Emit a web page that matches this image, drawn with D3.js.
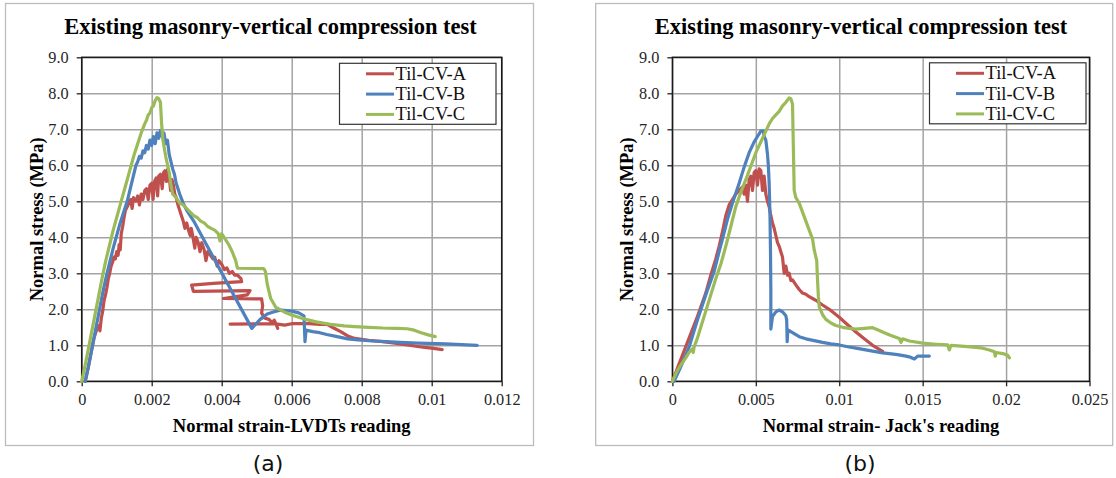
<!DOCTYPE html>
<html>
<head>
<meta charset="utf-8">
<script src="https://cdn.jsdelivr.net/npm/d3@7"></script>
<style>
  body { margin: 0; background: white; }
  text { font-family: "Liberation Serif", "Times New Roman", serif; }
</style>
</head>
<body>
<div id="container"></div>
<script>
// ---- data: [strain, stress (MPa)] ----

let seriesNames = ["Til-CV-A", "Til-CV-B", "Til-CV-C"];

// (a) LVDT strain
let lvdtA = [[0.0001,0],[0.00018,0.35],[0.00025,0.7],[0.0003,0.95],[0.00035,1.2],[0.0004,1.35],[0.00045,1.5],[0.0005,1.55],[0.00052,1.4],[0.00056,1.75],[0.0006,1.95],[0.00064,2.25],[0.00068,2.4],[0.00072,2.6],[0.00076,2.85],[0.0008,3.0],[0.00084,3.2],[0.00088,3.3],[0.00092,3.45],[0.00096,3.4],[0.001,3.6],[0.00104,3.5],[0.00107,3.8],[0.0011,3.65],[0.00113,4.1],[0.00117,4.3],[0.00121,4.55],[0.00125,4.75],[0.0013,4.85],[0.00135,4.95],[0.0014,5.05],[0.00144,4.8],[0.00148,5.1],[0.00155,5.0],[0.0016,5.15],[0.00165,4.9],[0.0017,5.2],[0.00175,5.05],[0.0018,5.3],[0.00185,5.35],[0.0019,5.05],[0.00195,5.45],[0.002,5.5],[0.00204,5.05],[0.00208,5.55],[0.00213,5.65],[0.00217,5.15],[0.0022,5.7],[0.00225,5.75],[0.0023,5.35],[0.00234,5.8],[0.00238,5.85],[0.00242,5.55],[0.00246,5.9],[0.0025,5.7],[0.00254,5.3],[0.00258,5.6],[0.00262,5.45],[0.00266,5.2],[0.0027,5.1],[0.00275,4.9],[0.0028,4.75],[0.00285,4.6],[0.0029,4.45],[0.00295,4.25],[0.003,4.4],[0.00305,4.2],[0.0031,4.05],[0.00313,4.25],[0.00318,4.0],[0.00323,3.7],[0.00327,4.0],[0.00333,3.85],[0.00338,3.6],[0.00343,3.85],[0.0035,3.65],[0.00355,3.35],[0.0036,3.6],[0.00368,3.5],[0.00375,3.4],[0.0038,3.45],[0.00387,3.2],[0.00392,3.35],[0.004,3.25],[0.00408,3.1],[0.00415,3.15],[0.00422,3.0],[0.0043,3.05],[0.00437,2.95],[0.00445,2.95],[0.00455,2.85],[0.00457,2.77],[0.00376,2.72],[0.00314,2.67],[0.00319,2.5],[0.00481,2.52],[0.00473,2.4],[0.00405,2.3],[0.00514,2.29],[0.00517,2.1],[0.00514,1.9],[0.00522,1.76],[0.00535,1.72],[0.00545,1.62],[0.0055,1.7],[0.00557,1.56],[0.0056,1.47],[0.00555,1.6],[0.00424,1.59],[0.0055,1.6],[0.0058,1.56],[0.006,1.6],[0.0065,1.6],[0.0068,1.58],[0.007,1.59],[0.0072,1.48],[0.0074,1.38],[0.0076,1.26],[0.0078,1.19],[0.0082,1.14],[0.0086,1.1],[0.009,1.05],[0.0094,1.0],[0.0098,0.94],[0.01,0.92],[0.0103,0.88]];

let lvdtB = [[0.0001,0],[0.0002,0.45],[0.0003,0.95],[0.0004,1.45],[0.0005,1.95],[0.0006,2.45],[0.0007,2.9],[0.0008,3.3],[0.0009,3.7],[0.001,4.05],[0.0011,4.4],[0.0012,4.7],[0.0013,5.0],[0.0014,5.4],[0.0015,5.8],[0.00155,6.0],[0.0016,6.1],[0.00165,6.25],[0.0017,6.2],[0.00175,6.4],[0.0018,6.35],[0.00185,6.55],[0.0019,6.45],[0.00195,6.7],[0.002,6.55],[0.00205,6.8],[0.0021,6.6],[0.00215,6.9],[0.0022,6.75],[0.00225,6.97],[0.0023,6.8],[0.00235,6.9],[0.0024,6.6],[0.00245,6.7],[0.0025,6.3],[0.00255,6.1],[0.0026,5.9],[0.00265,5.75],[0.0027,5.5],[0.0028,5.2],[0.0029,4.95],[0.003,4.75],[0.0031,4.6],[0.0032,4.45],[0.00486,1.47],[0.0051,1.72],[0.0053,1.87],[0.0055,1.93],[0.0057,1.98],[0.006,1.95],[0.0062,1.9],[0.00635,1.82],[0.00638,1.1],[0.00641,1.42],[0.0066,1.38],[0.0068,1.35],[0.007,1.3],[0.0073,1.24],[0.0076,1.18],[0.0079,1.15],[0.0083,1.12],[0.0087,1.1],[0.0091,1.08],[0.0096,1.06],[0.0104,1.04],[0.0113,1.0]];

let lvdtC = [[0,0],[0.0001,0.45],[0.0002,0.95],[0.0003,1.45],[0.0004,1.95],[0.0005,2.45],[0.0006,2.95],[0.0007,3.4],[0.0008,3.8],[0.0009,4.2],[0.001,4.55],[0.0011,4.9],[0.0012,5.25],[0.0013,5.6],[0.0014,5.95],[0.0015,6.3],[0.0016,6.6],[0.0017,6.9],[0.0018,7.15],[0.00185,7.25],[0.0019,7.4],[0.00195,7.45],[0.002,7.6],[0.00205,7.65],[0.0021,7.8],[0.00215,7.88],[0.0022,7.85],[0.00225,7.75],[0.00228,7.2],[0.00232,6.7],[0.0024,6.25],[0.0025,5.8],[0.00255,5.45],[0.0026,5.2],[0.0027,5.1],[0.0028,4.95],[0.0029,4.9],[0.003,4.8],[0.0031,4.7],[0.0032,4.6],[0.0033,4.55],[0.0034,4.45],[0.0035,4.4],[0.0036,4.3],[0.0037,4.25],[0.0038,4.2],[0.0039,4.1],[0.00395,3.9],[0.004,4.1],[0.0041,3.95],[0.0042,3.8],[0.0043,3.6],[0.0044,3.35],[0.00445,3.14],[0.0052,3.13],[0.00525,3.05],[0.0053,2.7],[0.0054,2.3],[0.00555,2.05],[0.0058,1.92],[0.006,1.84],[0.0062,1.78],[0.0064,1.72],[0.0067,1.65],[0.0071,1.58],[0.0075,1.54],[0.0078,1.52],[0.0082,1.5],[0.0086,1.48],[0.009,1.47],[0.0093,1.46],[0.0095,1.42],[0.0097,1.35],[0.0099,1.29],[0.0101,1.24]];

// (b) jack strain
let jackA = [[0,0],[0.0005,0.6],[0.001,1.2],[0.0015,1.8],[0.002,2.45],[0.0023,2.95],[0.0026,3.4],[0.0028,3.75],[0.003,4.15],[0.0032,4.6],[0.0034,4.9],[0.0036,5.05],[0.0038,5.2],[0.004,5.3],[0.0042,5.4],[0.0043,5.2],[0.0044,5.45],[0.0045,5.0],[0.0046,5.6],[0.0047,5.7],[0.0048,5.3],[0.0049,5.8],[0.005,5.85],[0.0051,5.45],[0.0052,5.9],[0.0053,5.85],[0.0054,5.3],[0.0055,5.7],[0.0056,5.2],[0.0057,5.0],[0.0058,4.85],[0.0059,4.6],[0.006,4.4],[0.0061,4.25],[0.0062,4.05],[0.0063,3.85],[0.0064,3.75],[0.0065,3.6],[0.0066,3.45],[0.0067,3.0],[0.0068,3.2],[0.0069,2.95],[0.007,3.0],[0.0071,2.8],[0.0072,2.82],[0.0074,2.68],[0.0076,2.55],[0.0078,2.45],[0.008,2.42],[0.0082,2.35],[0.0084,2.3],[0.0086,2.25],[0.009,2.12],[0.0094,2.0],[0.01,1.78],[0.0105,1.57],[0.011,1.37],[0.0115,1.18],[0.012,1.0],[0.0126,0.83]];

let jackB = [[0.0001,0],[0.0005,0.4],[0.001,0.95],[0.0015,1.7],[0.002,2.4],[0.0025,3.05],[0.0028,3.6],[0.003,3.95],[0.0033,4.5],[0.0036,4.95],[0.004,5.5],[0.0043,5.95],[0.0046,6.35],[0.0049,6.65],[0.0051,6.8],[0.0053,6.95],[0.00545,6.95],[0.0055,6.8],[0.0056,6.7],[0.00565,6.5],[0.0057,6.3],[0.00575,6.0],[0.0058,5.5],[0.00585,4.6],[0.00588,3.6],[0.0059,2.5],[0.0059,1.45],[0.006,1.8],[0.0062,1.93],[0.0064,1.98],[0.0066,1.93],[0.0068,1.82],[0.00685,1.7],[0.00688,1.1],[0.00692,1.43],[0.0072,1.35],[0.0076,1.24],[0.008,1.18],[0.0085,1.13],[0.009,1.08],[0.0095,1.04],[0.01,1.01],[0.0105,0.96],[0.011,0.92],[0.0115,0.88],[0.012,0.84],[0.0126,0.79],[0.013,0.77],[0.0135,0.74],[0.014,0.7],[0.0142,0.68],[0.0145,0.62],[0.0147,0.7],[0.0154,0.7]];

let jackC = [[0,0],[0.0003,0.3],[0.0005,0.45],[0.0008,0.65],[0.001,0.8],[0.0012,0.9],[0.00125,0.8],[0.0013,0.95],[0.0015,1.2],[0.0017,1.5],[0.002,1.95],[0.0023,2.4],[0.0026,2.85],[0.0029,3.25],[0.0032,3.75],[0.0035,4.3],[0.0038,4.85],[0.0041,5.25],[0.0044,5.6],[0.0046,5.85],[0.0048,6.1],[0.005,6.35],[0.0052,6.55],[0.0054,6.75],[0.0056,6.95],[0.0058,7.15],[0.006,7.3],[0.0062,7.4],[0.0064,7.5],[0.0066,7.65],[0.0068,7.75],[0.007,7.87],[0.0071,7.85],[0.0072,7.7],[0.00725,6.5],[0.0073,5.3],[0.0074,5.1],[0.0076,4.95],[0.0078,4.7],[0.008,4.45],[0.0082,4.2],[0.0084,3.95],[0.0085,3.65],[0.00865,3.35],[0.0087,2.8],[0.00875,2.35],[0.0088,2.07],[0.009,1.85],[0.0092,1.72],[0.0095,1.62],[0.0098,1.55],[0.0102,1.5],[0.0106,1.47],[0.011,1.45],[0.0115,1.47],[0.012,1.49],[0.0123,1.43],[0.0127,1.35],[0.0131,1.27],[0.0136,1.19],[0.0137,1.08],[0.0138,1.18],[0.0142,1.12],[0.015,1.06],[0.0158,1.03],[0.0165,1.01],[0.0166,0.87],[0.0167,1.0],[0.0175,0.97],[0.0182,0.94],[0.0186,0.92],[0.019,0.87],[0.0193,0.82],[0.01935,0.7],[0.0194,0.8],[0.0198,0.77],[0.0201,0.72],[0.0202,0.65]];

// axes
let stressTicks = [0,1,2,3,4,5,6,7,8,9];
let lvdtTicks = [0,0.002,0.004,0.006,0.008,0.01,0.012];
let lvdtTickLabels = ["0","0.002","0.004","0.006","0.008","0.01","0.012"];
let jackTicks = [0,0.005,0.01,0.015,0.02,0.025];
let jackTickLabels = ["0","0.005","0.01","0.015","0.02","0.025"];

let colors = ["#c0504d", "#4f81bd", "#9bbb59"];

let w = 1116;
let h = 478;

let viz = d3.select("#container")
  .append("svg")
    .attr("width", w)
    .attr("height", h)
    .style("background-color", "white")
;

function drawPanel(p) {
  let g = viz.append("g").attr("class", "panel");

  // outer frame of the chart
  g.append("rect")
    .attr("x", p.box[0]).attr("y", p.box[1])
    .attr("width", p.box[2]).attr("height", p.box[3])
    .attr("fill", "white")
    .attr("stroke", "#bcbcbc")
    .attr("stroke-width", 1.3);

  let xScale = d3.scaleLinear().domain([0, p.xMax]).range([p.left, p.right]);
  let yScale = d3.scaleLinear().domain([0, 9]).range([p.bottom, p.top]);

  // gridlines
  let xGrid = g.append("g")
    .attr("transform", "translate(0," + p.bottom + ")")
    .call(d3.axisBottom(xScale).tickValues(p.xTicks).tickSize(-(p.bottom - p.top)).tickFormat(""));
  let yGrid = g.append("g")
    .attr("transform", "translate(" + p.left + ",0)")
    .call(d3.axisLeft(yScale).tickValues(stressTicks).tickSize(-(p.right - p.left)).tickFormat(""));
  [xGrid, yGrid].forEach(function(a) {
    a.select(".domain").remove();
    a.selectAll("line").attr("stroke", "#a3a3a3").attr("stroke-width", 1.5);
  });

  // ticks + labels
  let xAxisGroup = g.append("g")
    .attr("transform", "translate(0," + p.bottom + ")")
    .call(d3.axisBottom(xScale).tickValues(p.xTicks).tickSize(5).tickPadding(7)
      .tickFormat(function(d, i) { return p.xLabels[i]; }));
  let yAxisGroup = g.append("g")
    .attr("transform", "translate(" + p.left + ",0)")
    .call(d3.axisLeft(yScale).tickValues(stressTicks).tickSize(5).tickPadding(8)
      .tickFormat(d3.format(".1f")));
  [xAxisGroup, yAxisGroup].forEach(function(a) {
    a.select(".domain").remove();
    a.selectAll("line").attr("stroke", "#222").attr("stroke-width", 1.3);
    a.selectAll("text")
      .attr("fill", "#262626")
      .style("font-family", "'Liberation Serif', serif")
      .style("font-size", "16.3px");
  });

  // plot frame
  g.append("rect")
    .attr("x", p.left).attr("y", p.top)
    .attr("width", p.right - p.left).attr("height", p.bottom - p.top)
    .attr("fill", "none")
    .attr("stroke", "#1a1a1a")
    .attr("stroke-width", 1.5);

  // curves
  let line = d3.line()
    .x(function(d) { return xScale(d[0]); })
    .y(function(d) { return yScale(d[1]); });

  g.selectAll(".curve").data(p.series).enter()
    .append("path")
      .attr("class", "curve")
      .attr("d", line)
      .attr("fill", "none")
      .attr("stroke", function(d, i) { return colors[i]; })
      .attr("stroke-width", 3.2)
      .attr("stroke-linejoin", "round")
      .attr("stroke-linecap", "round")
  ;

  // legend
  let leg = g.append("g").attr("transform", "translate(" + p.legendX + "," + p.legendY + ")");
  leg.append("rect")
    .attr("width", 156.5).attr("height", 61)
    .attr("fill", "white")
    .attr("stroke", "#333")
    .attr("stroke-width", 1.2);
  let rows = leg.selectAll(".row").data(seriesNames).enter()
    .append("g")
      .attr("class", "row")
      .attr("transform", function(d, i) { return "translate(0," + (10.5 + i * 20.3) + ")"; });
  rows.append("line")
    .attr("x1", 26.5).attr("x2", 54.5)
    .attr("stroke", function(d, i) { return colors[i]; })
    .attr("stroke-width", 3);
  rows.append("text")
    .attr("x", 56)
    .attr("y", 6)
    .style("font-size", "18.5px")
    .attr("fill", "#111")
    .text(function(d) { return d; });

  // titles
  g.append("text")
    .attr("x", p.titleX).attr("y", 33.5)
    .attr("text-anchor", "middle")
    .style("font-size", "22.5px").style("font-weight", "bold")
    .text("Existing masonry-vertical compression test");

  g.append("text")
    .attr("x", (p.left + p.right) / 2).attr("y", 431.5)
    .attr("text-anchor", "middle")
    .style("font-size", "18.5px").style("font-weight", "bold")
    .text(p.xTitle);

  g.append("text")
    .attr("transform", "translate(" + p.yTitleX + "," + ((p.top + p.bottom) / 2) + ") rotate(-90)")
    .attr("text-anchor", "middle")
    .attr("dy", "0.35em")
    .style("font-size", "18.5px").style("font-weight", "bold")
    .text("Normal stress (MPa)");

  // caption under the frame
  g.append("text")
    .attr("x", p.captionX).attr("y", 470.5)
    .attr("text-anchor", "middle")
    .style("font-family", "'DejaVu Sans', sans-serif")
    .style("font-size", "22px")
    .attr("fill", "#111")
    .text(p.caption);
}

drawPanel({
  box: [5.5, 3.5, 528, 442],
  left: 81.7, right: 501.7, top: 57.3, bottom: 381.3,
  xMax: 0.012, xTicks: lvdtTicks, xLabels: lvdtTickLabels,
  xTitle: "Normal strain-LVDTs reading",
  series: [lvdtA, lvdtB, lvdtC],
  legendX: 339.5, legendY: 63.3,
  titleX: 270.5, yTitleX: 36.5,
  caption: "(a)", captionX: 268
});

drawPanel({
  box: [595.7, 3.5, 517, 442],
  left: 672.4, right: 1089.5, top: 57.3, bottom: 381.3,
  xMax: 0.025, xTicks: jackTicks, xLabels: jackTickLabels,
  xTitle: "Normal strain- Jack's reading",
  series: [jackA, jackB, jackC],
  legendX: 929.5, legendY: 62.8,
  titleX: 861, yTitleX: 627,
  caption: "(b)", captionX: 860
});
</script>
</body>
</html>
